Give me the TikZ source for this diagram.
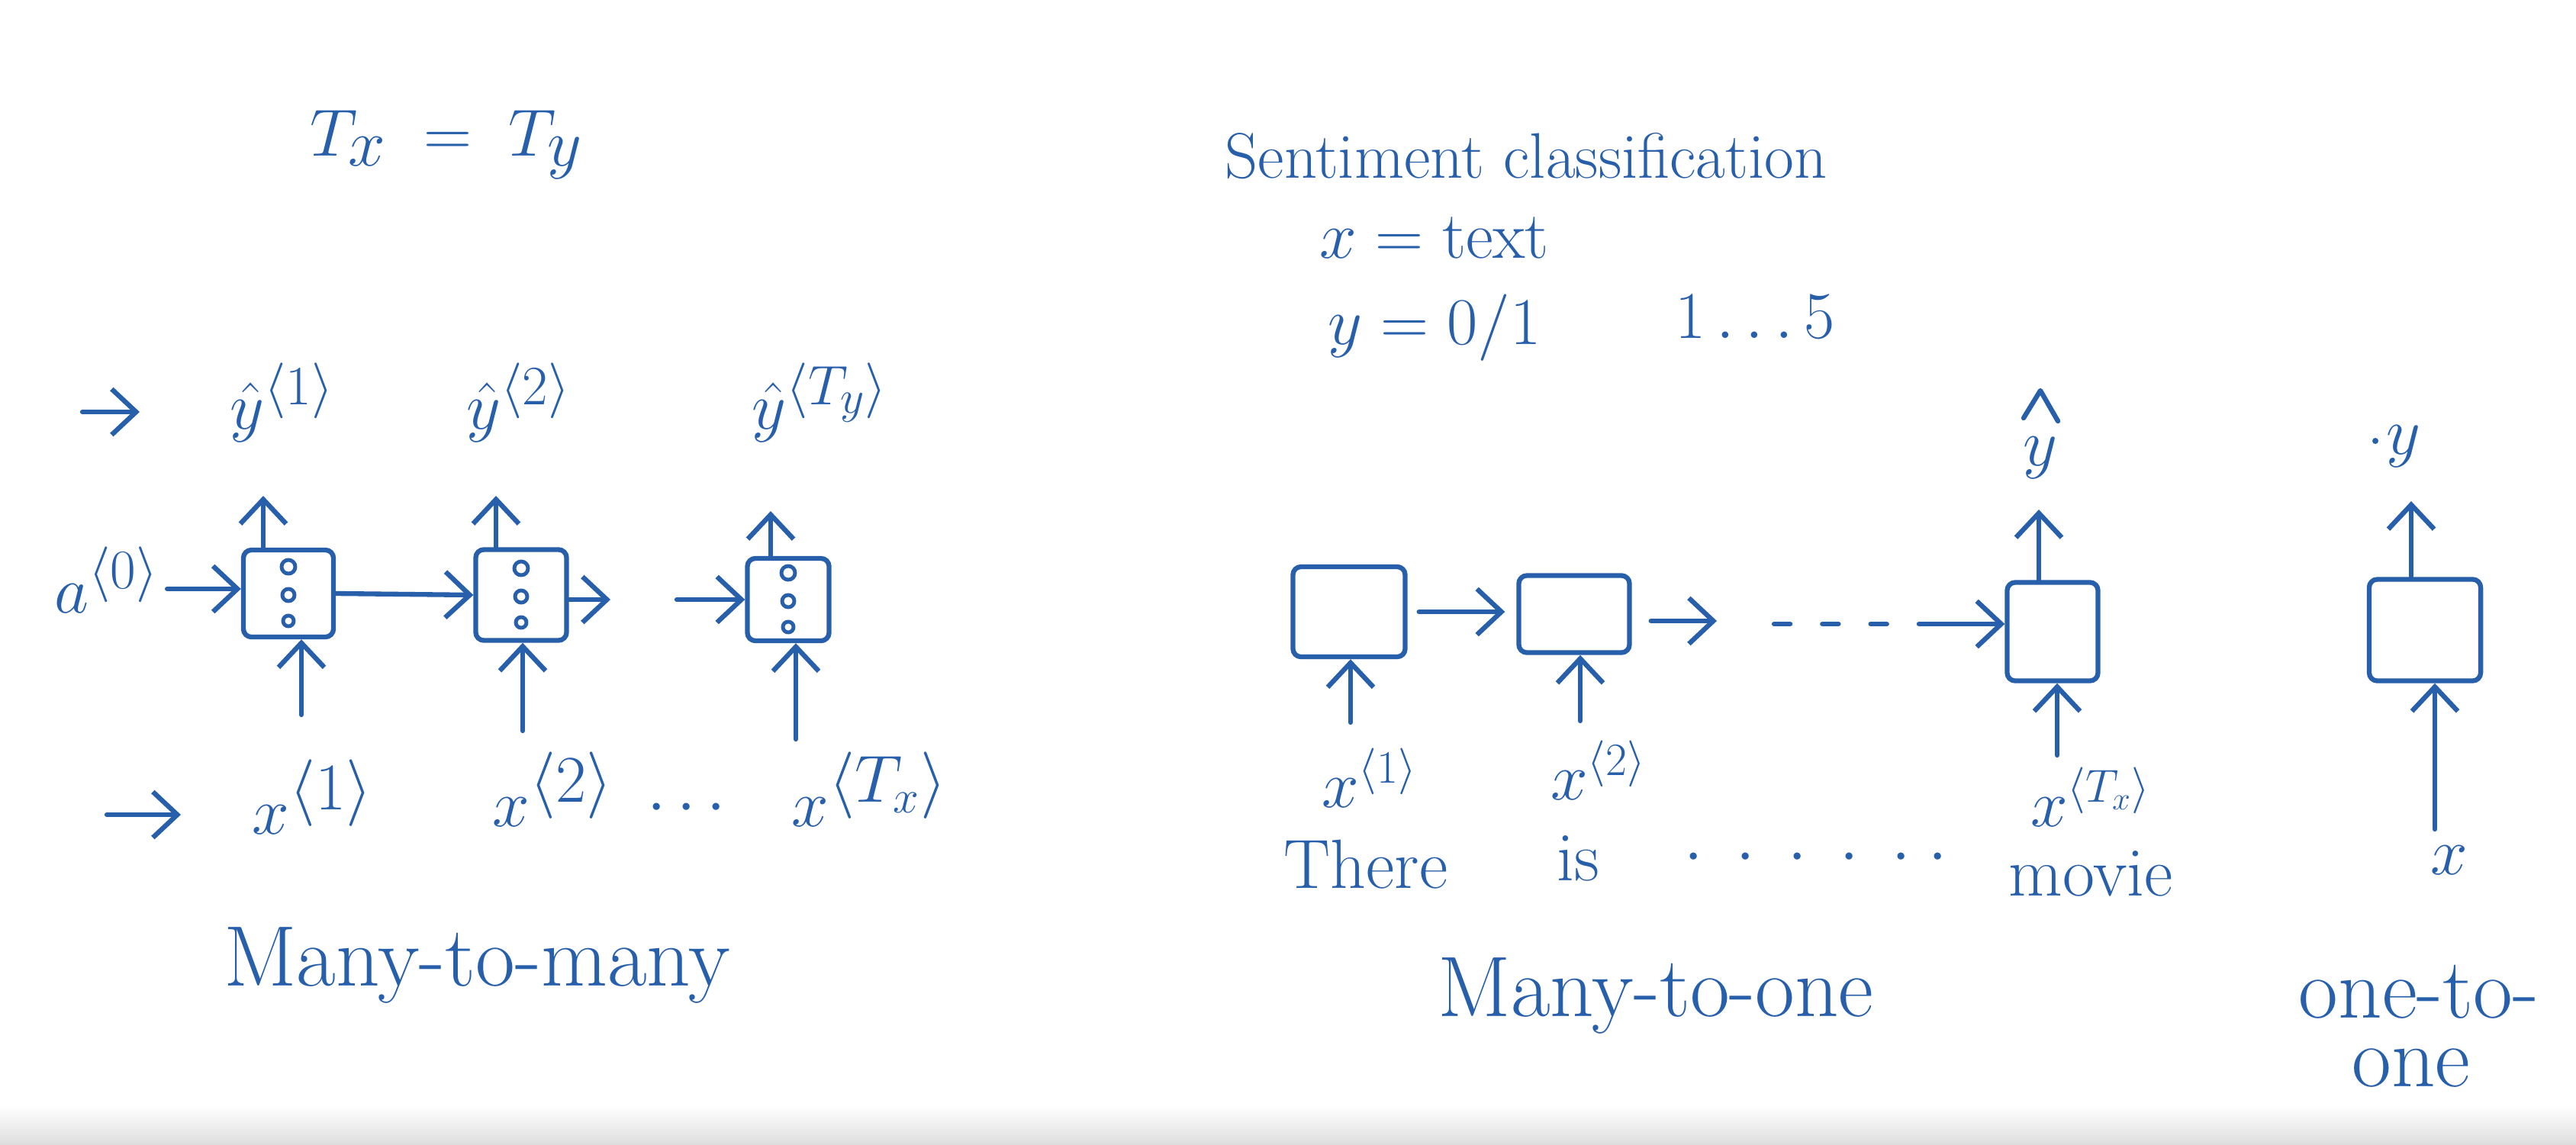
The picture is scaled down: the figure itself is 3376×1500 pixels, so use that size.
\documentclass[tikz,border=0pt]{standalone}
\usetikzlibrary{arrows.meta,calc}
\definecolor{ink}{RGB}{40,95,170}
\begin{document}
\begin{tikzpicture}[x=0.01cm,y=-0.01cm,
  inkline/.style={draw=ink,line width=1.8pt,line cap=round,line join=round},
  arr/.style={inkline,-{Straight Barb[length=3.2mm,width=6mm]}},
  cell/.style={inkline,rectangle,rounded corners=3pt,inner sep=0pt},
  hw/.style={text=ink,inner sep=0pt,font=\fontsize{32}{38}\selectfont},
  hwm/.style={text=ink,inner sep=0pt,font=\fontsize{26}{31}\selectfont},
  hwsc/.style={text=ink,inner sep=0pt,font=\fontsize{24}{29}\selectfont},
  hws/.style={text=ink,inner sep=0pt,font=\fontsize{24}{28}\selectfont},
  hwl/.style={text=ink,inner sep=0pt,font=\fontsize{34}{40}\selectfont},
  hwx/.style={text=ink,inner sep=0pt,font=\fontsize{38}{44}\selectfont},
  bead/.style={inkline,line width=1.4pt}
]
\useasboundingbox (0,0) rectangle (3376,1500);
\fill[white] (0,0) rectangle (3376,1500);
\shade[top color=white,bottom color=black!13] (0,1450) rectangle (3376,1500);

% ---------------- left: many-to-many ----------------
\node[hwl] (txy) at (585,190) {$T_x \;=\; T_y$};

\coordinate (m1s) at (108,540); \coordinate (m1e) at (183,540);
\draw[arr] (m1s) -- (m1e);
\coordinate (m2s) at (140,1068); \coordinate (m2e) at (237,1068);
\draw[arr] (m2s) -- (m2e);

\node[hw] (yh1) at (370,528) {$\hat{y}^{\langle 1\rangle}$};
\node[hw] (yh2) at (680,528) {$\hat{y}^{\langle 2\rangle}$};
\node[hw] (yh3) at (1075,528) {$\hat{y}^{\langle T_y\rangle}$};

\node[cell,minimum width=1.18cm,minimum height=1.14cm] (b1) at (378,778) {};
\node[cell,minimum width=1.19cm,minimum height=1.19cm] (b2) at (683,780) {};
\node[cell,minimum width=1.07cm,minimum height=1.08cm] (b3) at (1033,786) {};

\foreach \b in {b1,b2,b3}{
  \draw[bead] ($( \b)+(0,-35)$) circle[radius=0.09cm];
  \draw[bead] ($( \b)+(0,2)$) circle[radius=0.08cm];
  \draw[bead] ($( \b)+(0,36)$) circle[radius=0.07cm];
}

\node[hw] (a0) at (140,760) {$a^{\langle 0\rangle}$};

\draw[arr] (a0.east) ++(10,12) coordinate (a0e) (a0e) -- (a0e -| b1.west);
\draw[arr] (b1.east) -- (b2.west);
\coordinate (o2) at (800,786);
\draw[arr] (b2.east |- o2) -- (o2);
\coordinate (i3) at (887,786);
\draw[arr] (i3) -- (i3 -| b3.west);

\coordinate (u1) at (345,650); \draw[arr] (b1.north -| u1) -- (u1);
\coordinate (u2) at (650,650); \draw[arr] (b2.north -| u2) -- (u2);
\coordinate (u3) at (1010,670); \draw[arr] (b3.north -| u3) -- (u3);

\node[hwx] (x1) at (410,1045) {$x^{\langle 1\rangle}$};
\node[hwx] (x2) at (725,1035) {$x^{\langle 2\rangle}$};
\node[hwl] (xd) at (900,1060) {$\cdots$};
\node[hwx] (x3) at (1140,1035) {$x^{\langle T_x\rangle}$};

\coordinate (d1) at (395,937); \draw[arr] (d1) -- (d1 |- b1.south);
\coordinate (d2) at (685,958); \draw[arr] (d2) -- (d2 |- b2.south);
\coordinate (d3) at (1043,969); \draw[arr] (d3) -- (d3 |- b3.south);

\node[hw] (mtm) at (625,1265) {Many-to-many};

% ---------------- right: sentiment classification ----------------
\node[hwsc] (sc) at (2000,205) {Sentiment classification};
\node[hwm] (xt) at (1880,312) {$x = \mathrm{text}$};
\node[hwm] (y01) at (1880,430) {$y = 0/1$};
\node[hwm] (r15) at (2300,415) {$1\ldots5$};

\node[cell,minimum width=1.47cm,minimum height=1.18cm] (bA) at (1768,802) {};
\node[cell,minimum width=1.45cm,minimum height=1.01cm] (bB) at (2063,805) {};
\node[cell,minimum width=1.19cm,minimum height=1.29cm] (bC) at (2690,828) {};
\node[cell,minimum width=1.46cm,minimum height=1.33cm] (bD) at (3178,826) {};

\draw[arr,shorten <=0.15cm,shorten >=0.15cm] (bA.east) -- (bA.east -| bB.west);
\coordinate (oB) at (2250,814);
\draw[arr] (bB.east |- oB) ++(25,0) -- (oB);
\coordinate (ds) at (2325,818); \coordinate (de) at (2520,818);
\draw[inkline,dash pattern=on 6pt off 12pt] (ds) -- (de);
\draw[arr] (de) -- (de -| bC.west);

% outputs above
\coordinate (uC) at (2672,668); \draw[arr] (bC.north -| uC) -- (uC);
\node[hw] (yC) at (2674,600) {$y$};
\draw[inkline] (2652,548) -- (2674,512) -- (2697,552);

\coordinate (uD) at (3160,657); \draw[arr] (bD.north -| uD) -- (uD);
\node[hw] (yD) at (3150,585) {$y$};
\fill[ink] (3113,578) circle[radius=0.04cm];

% inputs below
\coordinate (dA) at (1770,947); \draw[arr] (dA) -- (dA |- bA.south);
\coordinate (dB) at (2071,945); \draw[arr] (dB) -- (dB |- bB.south);
\coordinate (dC) at (2696,990); \draw[arr] (dC) -- (dC |- bC.south);
\coordinate (dD) at (3191,1087); \draw[arr] (dD) -- (dD |- bD.south);

\node[hws] (xA) at (1795,1020) {$x^{\langle 1\rangle}$};
\node[hws] (xB) at (2095,1010) {$x^{\langle 2\rangle}$};
\node[hws] (xC) at (2740,1045) {$x^{\langle T_x\rangle}$};
\node[hws] (xD) at (3210,1128) {$x$};

\node[hwm] (w1) at (1790,1133) {There};
\node[hwm] (w2) at (2068,1125) {is};
\node[hwm] (w3) at (2380,1125) {$\cdot\;\cdot\;\cdot\;\cdot\;\cdot\;\cdot$};
\node[hwm] (w4) at (2740,1145) {movie};

\node[hw] (mto) at (2170,1305) {Many-to-one};
\node[hw] (oto1) at (3170,1300) {one-to-};
\node[hw] (oto2) at (3160,1400) {one};
\end{tikzpicture}
\end{document}
